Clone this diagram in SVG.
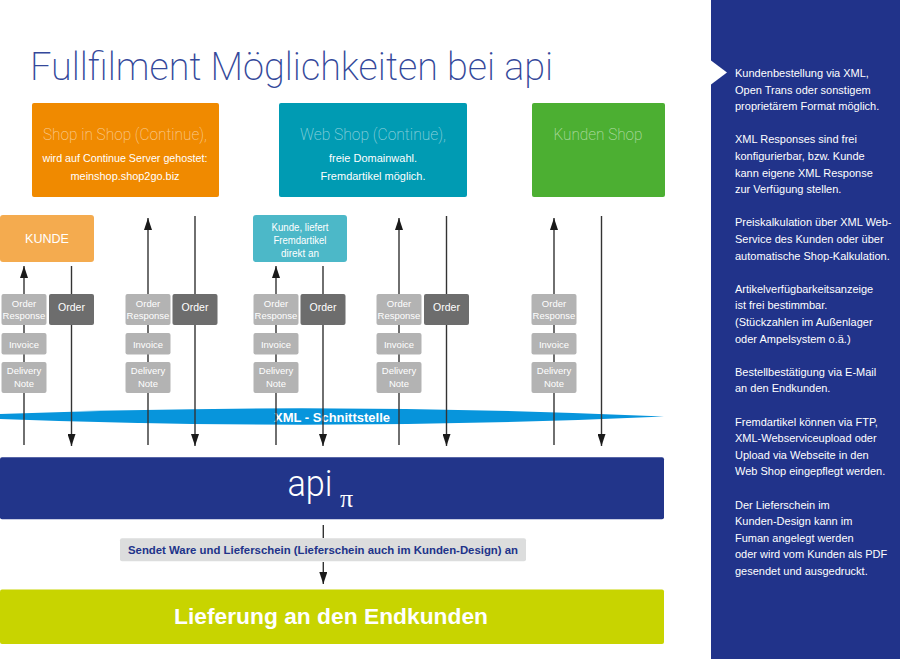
<svg xmlns="http://www.w3.org/2000/svg" width="900" height="659" viewBox="0 0 900 659">
<defs>
<style>
.thin{font-family:Roboto,"Liberation Sans",sans-serif;font-weight:300}
.hair{font-family:Roboto,"Liberation Sans",sans-serif;font-weight:200}
.sans{font-family:"Liberation Sans",Arial,sans-serif}
.bold{font-family:"Liberation Sans",Arial,sans-serif;font-weight:bold}
.ln{stroke:#333;stroke-width:1.4;fill:none}
.lt{fill:#b3b3b3}
.dk{fill:#6d6d6d}
.wt{fill:#fff}
.sm{font-size:9.5px}
.pn{font-size:11px;fill:#fff}
</style>
<marker id="ah" markerWidth="12" markerHeight="8" refX="12" refY="4" orient="auto" markerUnits="userSpaceOnUse" viewBox="0 0 12 8"><path d="M0,0 L12,4 L0,8 Z" fill="#1a1a1a"/></marker>
</defs>
<rect width="900" height="659" fill="#fff"/>

<g id="title"><text class="hair" x="30" y="80" font-size="38" fill="#34489a" textLength="523" lengthAdjust="spacingAndGlyphs">Fullfilment Möglichkeiten bei api</text></g>

<g id="shop-in-shop">
<rect x="32" y="103" width="187" height="94" rx="2" fill="#f08a00"/>
<text class="hair" x="125" y="140" font-size="16.5" fill="#fff" fill-opacity="0.55" text-anchor="middle" textLength="164" lengthAdjust="spacingAndGlyphs">Shop in Shop (Continue),</text>
<text class="sans wt" x="125" y="162" font-size="10.5" text-anchor="middle" textLength="165" lengthAdjust="spacingAndGlyphs">wird auf Continue Server gehostet:</text>
<text class="sans wt" x="125" y="179.5" font-size="10.5" text-anchor="middle" textLength="109" lengthAdjust="spacingAndGlyphs">meinshop.shop2go.biz</text>
</g>

<g id="web-shop">
<rect x="279" y="103" width="188" height="94" rx="2" fill="#009bb3"/>
<text class="hair" x="373" y="140" font-size="16.5" fill="#fff" fill-opacity="0.55" text-anchor="middle" textLength="146" lengthAdjust="spacingAndGlyphs">Web Shop (Continue),</text>
<text class="sans wt" x="373" y="162" font-size="10.5" text-anchor="middle" textLength="88" lengthAdjust="spacingAndGlyphs">freie Domainwahl.</text>
<text class="sans wt" x="373" y="179.5" font-size="10.5" text-anchor="middle" textLength="105" lengthAdjust="spacingAndGlyphs">Fremdartikel möglich.</text>
</g>

<g id="kunden-shop">
<rect x="532" y="103" width="133" height="94" rx="2" fill="#4caf32"/>
<text class="hair" x="598" y="140" font-size="16.5" fill="#fff" fill-opacity="0.55" text-anchor="middle" textLength="89" lengthAdjust="spacingAndGlyphs">Kunden Shop</text>
</g>

<g id="kunde">
<rect x="0" y="215" width="94" height="47" rx="3" fill="#f4ab4f"/>
<text class="sans wt" x="47" y="243" font-size="13.5" text-anchor="middle" textLength="44" lengthAdjust="spacingAndGlyphs">KUNDE</text>
</g>

<g id="kunde-fremdartikel">
<rect x="253" y="215" width="94" height="47" rx="3" fill="#4cb8c8"/>
<text class="sans wt" x="300" y="230.5" font-size="10" text-anchor="middle" textLength="57" lengthAdjust="spacingAndGlyphs">Kunde, liefert</text>
<text class="sans wt" x="300" y="244" font-size="10" text-anchor="middle" textLength="53" lengthAdjust="spacingAndGlyphs">Fremdartikel</text>
<text class="sans wt" x="300" y="257" font-size="10" text-anchor="middle" textLength="38" lengthAdjust="spacingAndGlyphs">direkt an</text>
</g>

<g id="xml-band">
<path d="M-60,416.5 Q302,400 664,416.5 Q302,433 -60,416.5 Z" fill="#0795dc"/>
<text class="bold wt" x="274" y="421.5" font-size="12.5" textLength="116" lengthAdjust="spacingAndGlyphs">XML - Schnittstelle</text>
</g>

<g id="connectors">
<line class="ln" x1="24" y1="445" x2="24" y2="266" marker-end="url(#ah)"/>
<line class="ln" x1="71.5" y1="266" x2="71.5" y2="446" marker-end="url(#ah)"/>
<line class="ln" x1="148" y1="445" x2="148" y2="218" marker-end="url(#ah)"/>
<line class="ln" x1="195" y1="216" x2="195" y2="446" marker-end="url(#ah)"/>
<line class="ln" x1="276" y1="445" x2="276" y2="266" marker-end="url(#ah)"/>
<line class="ln" x1="323" y1="266" x2="323" y2="446" marker-end="url(#ah)"/>
<line class="ln" x1="399" y1="445" x2="399" y2="218" marker-end="url(#ah)"/>
<line class="ln" x1="446.5" y1="216" x2="446.5" y2="446" marker-end="url(#ah)"/>
<line class="ln" x1="554" y1="445" x2="554" y2="218" marker-end="url(#ah)"/>
<line class="ln" x1="601.5" y1="216" x2="601.5" y2="446" marker-end="url(#ah)"/>
<line class="ln" x1="323.3" y1="525" x2="323.3" y2="538"/>
<line class="ln" x1="323.3" y1="562" x2="323.3" y2="584" marker-end="url(#ah)"/>
</g>

<g id="group1">
<rect class="lt" x="1.5" y="294" width="45" height="31" rx="2"/>
<text class="sans wt sm" x="24" y="307" text-anchor="middle">Order</text>
<text class="sans wt sm" x="24" y="319" text-anchor="middle">Response</text>
<rect class="dk" x="49" y="294" width="45" height="31" rx="2"/>
<text class="sans wt" x="71.5" y="311" font-size="10.5" text-anchor="middle">Order</text>
<rect class="lt" x="1.5" y="333" width="45" height="21.5" rx="2"/>
<text class="sans wt sm" x="24" y="347.5" text-anchor="middle">Invoice</text>
<rect class="lt" x="1.5" y="362" width="45" height="31" rx="2"/>
<text class="sans wt sm" x="24" y="374" text-anchor="middle">Delivery</text>
<text class="sans wt sm" x="24" y="387" text-anchor="middle">Note</text>
</g>

<g id="group2">
<rect class="lt" x="125.5" y="294" width="45" height="31" rx="2"/>
<text class="sans wt sm" x="148" y="307" text-anchor="middle">Order</text>
<text class="sans wt sm" x="148" y="319" text-anchor="middle">Response</text>
<rect class="dk" x="172.5" y="294" width="45" height="31" rx="2"/>
<text class="sans wt" x="195" y="311" font-size="10.5" text-anchor="middle">Order</text>
<rect class="lt" x="125.5" y="333" width="45" height="21.5" rx="2"/>
<text class="sans wt sm" x="148" y="347.5" text-anchor="middle">Invoice</text>
<rect class="lt" x="125.5" y="362" width="45" height="31" rx="2"/>
<text class="sans wt sm" x="148" y="374" text-anchor="middle">Delivery</text>
<text class="sans wt sm" x="148" y="387" text-anchor="middle">Note</text>
</g>

<g id="group3">
<rect class="lt" x="253.5" y="294" width="45" height="31" rx="2"/>
<text class="sans wt sm" x="276" y="307" text-anchor="middle">Order</text>
<text class="sans wt sm" x="276" y="319" text-anchor="middle">Response</text>
<rect class="dk" x="300.5" y="294" width="45" height="31" rx="2"/>
<text class="sans wt" x="323" y="311" font-size="10.5" text-anchor="middle">Order</text>
<rect class="lt" x="253.5" y="333" width="45" height="21.5" rx="2"/>
<text class="sans wt sm" x="276" y="347.5" text-anchor="middle">Invoice</text>
<rect class="lt" x="253.5" y="362" width="45" height="31" rx="2"/>
<text class="sans wt sm" x="276" y="374" text-anchor="middle">Delivery</text>
<text class="sans wt sm" x="276" y="387" text-anchor="middle">Note</text>
</g>

<g id="group4">
<rect class="lt" x="376.5" y="294" width="45" height="31" rx="2"/>
<text class="sans wt sm" x="399" y="307" text-anchor="middle">Order</text>
<text class="sans wt sm" x="399" y="319" text-anchor="middle">Response</text>
<rect class="dk" x="424" y="294" width="45" height="31" rx="2"/>
<text class="sans wt" x="446.5" y="311" font-size="10.5" text-anchor="middle">Order</text>
<rect class="lt" x="376.5" y="333" width="45" height="21.5" rx="2"/>
<text class="sans wt sm" x="399" y="347.5" text-anchor="middle">Invoice</text>
<rect class="lt" x="376.5" y="362" width="45" height="31" rx="2"/>
<text class="sans wt sm" x="399" y="374" text-anchor="middle">Delivery</text>
<text class="sans wt sm" x="399" y="387" text-anchor="middle">Note</text>
</g>

<g id="group5">
<rect class="lt" x="531.5" y="294" width="45" height="31" rx="2"/>
<text class="sans wt sm" x="554" y="307" text-anchor="middle">Order</text>
<text class="sans wt sm" x="554" y="319" text-anchor="middle">Response</text>
<rect class="lt" x="531.5" y="333" width="45" height="21.5" rx="2"/>
<text class="sans wt sm" x="554" y="347.5" text-anchor="middle">Invoice</text>
<rect class="lt" x="531.5" y="362" width="45" height="31" rx="2"/>
<text class="sans wt sm" x="554" y="374" text-anchor="middle">Delivery</text>
<text class="sans wt sm" x="554" y="387" text-anchor="middle">Note</text>
</g>

<g id="api">
<rect x="0" y="457.3" width="664" height="62" rx="2" fill="#22358a"/>
<text class="thin wt" x="287.5" y="496" font-size="37" textLength="45" lengthAdjust="spacingAndGlyphs">api</text>
<text x="340" y="507" font-size="26" fill="#fff" font-family="'Liberation Serif',serif">π</text>
</g>

<g id="sendet">
<rect x="120" y="538.3" width="406" height="23" rx="2" fill="#dcdddd"/>
<text class="bold" x="323" y="553.5" font-size="11" fill="#21338a" text-anchor="middle" textLength="390" lengthAdjust="spacingAndGlyphs">Sendet Ware und Lieferschein (Lieferschein auch im Kunden-Design) an</text>
</g>

<g id="lieferung">
<rect x="0" y="589.5" width="664" height="54.5" rx="2" fill="#c8d400"/>
<text class="bold wt" x="331" y="624" font-size="22" text-anchor="middle" textLength="314" lengthAdjust="spacingAndGlyphs">Lieferung an den Endkunden</text>
</g>

<g id="info-panel">
<rect x="711" y="0" width="189" height="659" fill="#21338a"/>
<polygon points="711,60.5 727,72.5 711,84.5" fill="#fff"/>
<text class="sans pn" x="735" y="77">
<tspan x="735">Kundenbestellung via XML,</tspan>
<tspan x="735" dy="16.6">Open Trans oder sonstigem</tspan>
<tspan x="735" dy="16.6">proprietärem Format möglich.</tspan>
<tspan x="735" dy="33.2">XML Responses sind frei</tspan>
<tspan x="735" dy="16.6">konfigurierbar, bzw. Kunde</tspan>
<tspan x="735" dy="16.6">kann eigene XML Response</tspan>
<tspan x="735" dy="16.6">zur Verfügung stellen.</tspan>
<tspan x="735" dy="33.2">Preiskalkulation über XML Web-</tspan>
<tspan x="735" dy="16.6">Service des Kunden oder über</tspan>
<tspan x="735" dy="16.6">automatische Shop-Kalkulation.</tspan>
<tspan x="735" dy="33.2">Artikelverfügbarkeitsanzeige</tspan>
<tspan x="735" dy="16.6">ist frei bestimmbar.</tspan>
<tspan x="735" dy="16.6">(Stückzahlen im Außenlager</tspan>
<tspan x="735" dy="16.6">oder Ampelsystem o.ä.)</tspan>
<tspan x="735" dy="33.2">Bestellbestätigung via E-Mail</tspan>
<tspan x="735" dy="16.6">an den Endkunden.</tspan>
<tspan x="735" dy="33.2">Fremdartikel können via FTP,</tspan>
<tspan x="735" dy="16.6">XML-Webserviceupload oder</tspan>
<tspan x="735" dy="16.6">Upload via Webseite in den</tspan>
<tspan x="735" dy="16.6">Web Shop eingepflegt werden.</tspan>
<tspan x="735" dy="33.2">Der Lieferschein im</tspan>
<tspan x="735" dy="16.6">Kunden-Design kann im</tspan>
<tspan x="735" dy="16.6">Fuman angelegt werden</tspan>
<tspan x="735" dy="16.6">oder wird vom Kunden als PDF</tspan>
<tspan x="735" dy="16.6">gesendet und ausgedruckt.</tspan>
</text>
</g>
</svg>
